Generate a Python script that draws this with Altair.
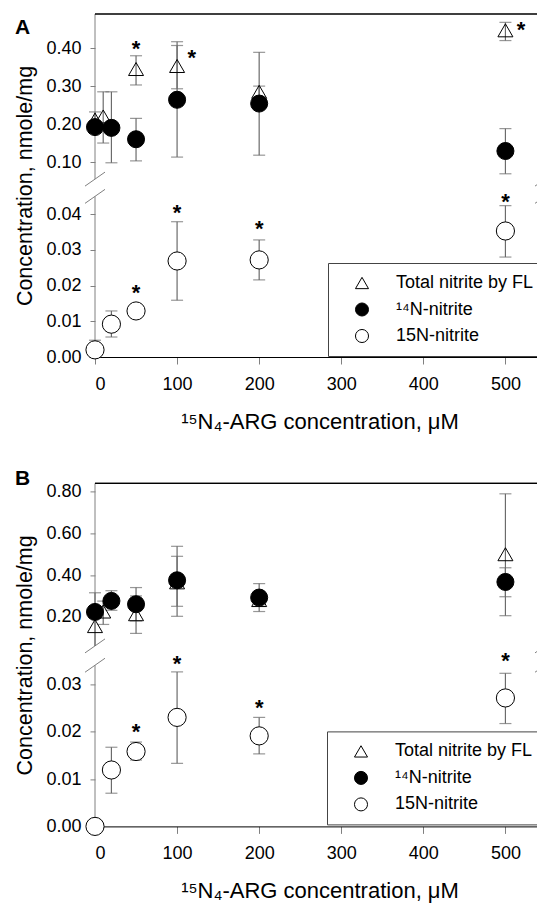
import altair as alt
import pandas as pd

FONT = "Liberation Sans"
ERR = "#6b6b6b"
AXIS_GRAY = "#808080"
W, H = 449, 343

SERIES = ["Total nitrite by FL", "¹⁴N-nitrite", "15N-nitrite"]
X_TICKS = [0, 100, 200, 300, 400, 500]

# ---------------- Panel A data ----------------
a_total_x = [0, 10, 50, 100, 200, 500]
a_total_y = [0.212, 0.22, 0.345, 0.353, 0.285, 0.447]
a_total_hi = [0.232, 0.285, 0.38, 0.407, 0.30, 0.468]
a_total_lo = [0.192, 0.15, 0.303, 0.293, 0.27, 0.42]

a_n14_x = [0, 20, 50, 100, 200, 500]
a_n14_y = [0.192, 0.19, 0.16, 0.264, 0.254, 0.129]
a_n14_hi = [0.205, 0.285, 0.215, 0.417, 0.389, 0.188]
a_n14_lo = [0.179, 0.098, 0.103, 0.113, 0.118, 0.069]

a_n15_x = [0, 20, 50, 100, 200, 500]
a_n15_y = [0.002, 0.0092, 0.0129, 0.0269, 0.0272, 0.0353]
a_n15_hi = [0.0047, 0.0129, 0.0135, 0.0379, 0.0328, 0.0424]
a_n15_lo = [0.0, 0.0056, 0.0123, 0.0159, 0.0216, 0.028]

a_star_x = [50, 118, 519, 50, 100, 200, 500]
a_star_y = [0.41, 0.386, 0.461, 0.0192, 0.0417, 0.0373, 0.0448]

a_yticks = [0.0, 0.01, 0.02, 0.03, 0.04, 0.10, 0.20, 0.30, 0.40]
a_segments = [(0.0, 0.045), (0.055, 0.49)]
a_scale_domain = [0.0, 0.046, 0.055, 0.49]
a_scale_range = [343, 178.8, 165.1, 0]

# ---------------- Panel B data ----------------
b_total_x = [0, 10, 50, 100, 200, 500]
b_total_y = [0.155, 0.225, 0.212, 0.365, 0.28, 0.50]
b_total_hi = [0.315, 0.275, 0.30, 0.49, 0.31, 0.79]
b_total_lo = [0.0, 0.163, 0.12, 0.25, 0.25, 0.205]

b_n14_x = [0, 20, 50, 100, 200, 500]
b_n14_y = [0.223, 0.276, 0.26, 0.375, 0.292, 0.367]
b_n14_hi = [0.24, 0.325, 0.34, 0.538, 0.359, 0.435]
b_n14_lo = [0.205, 0.231, 0.18, 0.202, 0.225, 0.296]

b_n15_x = [0, 20, 50, 100, 200, 500]
b_n15_y = [0.0, 0.0119, 0.0158, 0.023, 0.0191, 0.0271]
b_n15_hi = [0.0, 0.0167, 0.0178, 0.0326, 0.023, 0.0323]
b_n15_lo = [0.0, 0.007, 0.014, 0.0133, 0.0153, 0.0217]

b_star_x = [50, 100, 200, 500]
b_star_y = [0.021, 0.0353, 0.0261, 0.036]

b_yticks = [0.0, 0.01, 0.02, 0.03, 0.20, 0.40, 0.60, 0.80]
b_segments = [(0.0, 0.034), (0.06, 0.84)]
b_scale_domain = [0.0, 0.0365, 0.06, 0.84]
b_scale_range = [343, 170, 162.5, 0]


def build_frames(series_data, segments):
    rows, caps = [], []
    for name, xs, ys, his, los in series_data:
        for x, y, hi, lo in zip(xs, ys, his, los):
            seg = min(segments, key=lambda s: 0 if s[0] <= y <= s[1] else min(abs(y - s[0]), abs(y - s[1])))
            lo_c = max(lo, seg[0])
            hi_c = min(hi, seg[1])
            rows.append({"series": name, "x": x, "y": y, "lo": lo_c, "hi": hi_c})
            caps.append({"x": x, "v": hi_c})
            if lo >= seg[0]:
                caps.append({"x": x, "v": lo_c})
    return pd.DataFrame(rows), pd.DataFrame(caps)


def make_panel(label, series_data, star_x, star_y, yticks, segments, sdom, srange, lx, ly, label_y):
    df, caps = build_frames(series_data, segments)
    seg_df = pd.DataFrame({"s0": [s[0] for s in segments], "s1": [s[1] for s in segments]})
    brk_df = pd.DataFrame({"v": [segments[0][1], segments[1][0]]})
    star_df = pd.DataFrame({"x": star_x, "sy": star_y})

    xscale = alt.Scale(domain=[0, 547], nice=False, zero=False)
    yscale = alt.Scale(domain=sdom, range=srange, nice=False, zero=False)
    xaxis = alt.Axis(values=X_TICKS, title="¹⁵N₄-ARG concentration, μM", grid=False,
                     domainColor="black", tickColor=AXIS_GRAY, tickSize=7,
                     labelFontSize=18, labelPadding=11, labelFont=FONT, labelColor="black",
                     titleFontSize=22, titlePadding=18, titleFont=FONT, titleColor="black",
                     titleFontWeight="normal", labelOverlap=False)
    yaxis = alt.Axis(values=yticks, format=".2f", title="Concentration, nmole/mg", grid=False,
                     domain=False, tickColor=AXIS_GRAY, tickSize=5,
                     labelFontSize=18, labelPadding=9, labelFont=FONT, labelColor="black",
                     titleFontSize=21.5, titlePadding=9, titleFont=FONT, titleColor="black",
                     titleFontWeight="normal", labelOverlap=False)

    X = alt.X("x:Q", scale=xscale, axis=xaxis)

    legend = alt.Legend(title=None, orient="none", legendX=lx, legendY=ly, padding=11,
                        rowPadding=8.5, symbolOffset=14, labelOffset=25, strokeColor="#444444",
                        fillColor="white", labelFontSize=18, labelFont=FONT, labelColor="black",
                        symbolSize=170, symbolStrokeWidth=1, labelLimit=0)
    shape = alt.Shape("series:N", scale=alt.Scale(domain=SERIES, range=["triangle-up", "circle", "circle"]), legend=legend)
    fill = alt.Fill("series:N", scale=alt.Scale(domain=SERIES, range=["transparent", "black", "white"]), legend=legend)
    stroke = alt.Stroke("series:N", scale=alt.Scale(domain=SERIES, range=["black", "black", "black"]), legend=legend)

    axis_seg = alt.Chart(seg_df).mark_rule(color=AXIS_GRAY, strokeWidth=1).encode(
        x=alt.value(0), y=alt.Y("s0:Q", scale=yscale, axis=yaxis), y2="s1:Q")
    brk_left = alt.Chart(brk_df).mark_rule(color=AXIS_GRAY, strokeWidth=1, yOffset=7, y2Offset=-7).encode(
        x=alt.value(-10), x2=alt.value(10), y=alt.Y("v:Q", scale=yscale, axis=yaxis), y2="v:Q")
    brk_right = alt.Chart(brk_df).mark_rule(color=AXIS_GRAY, strokeWidth=1, yOffset=7, y2Offset=-7, clip=True).encode(
        x=alt.value(W - 9), x2=alt.value(W + 11), y=alt.Y("v:Q", scale=yscale, axis=yaxis), y2="v:Q")
    top = alt.Chart(seg_df).mark_rule(color="black", strokeWidth=1.2).encode(
        x=alt.value(0), x2=alt.value(W), y=alt.value(0))
    err = alt.Chart(df).mark_rule(color=ERR, strokeWidth=1.2).encode(
        x=X, y=alt.Y("lo:Q", scale=yscale, axis=yaxis), y2="hi:Q")
    cap = alt.Chart(caps).mark_tick(color=ERR, orient="horizontal", size=12, thickness=1.2).encode(
        x=X, y=alt.Y("v:Q", scale=yscale, axis=yaxis))
    Y = alt.Y("y:Q", scale=yscale, axis=yaxis)
    tri = alt.Chart(df).transform_filter(alt.datum.series == SERIES[0]).mark_point(
        filled=True, strokeWidth=1, size=225, opacity=1).encode(x=X, y=Y, shape=shape, fill=fill, stroke=stroke)
    c14 = alt.Chart(df).transform_filter(alt.datum.series == SERIES[1]).mark_point(
        filled=True, strokeWidth=1, size=290, opacity=1).encode(x=X, y=Y, shape=shape, fill=fill, stroke=stroke)
    c15 = alt.Chart(df).transform_filter(alt.datum.series == SERIES[2]).mark_point(
        filled=True, strokeWidth=1, size=330, opacity=1).encode(x=X, y=Y, shape=shape, fill=fill, stroke=stroke)
    stars = alt.Chart(star_df).mark_text(text="*", font=FONT, fontSize=22, fontWeight="bold",
                                         baseline="middle", dy=5, color="black").encode(
        x=X, y=alt.Y("sy:Q", scale=yscale, axis=yaxis))
    lab = alt.Chart(pd.DataFrame({"t": [label]})).mark_text(
        font=FONT, fontSize=21, fontWeight="bold", align="left", baseline="alphabetic", color="black").encode(
        x=alt.value(-80), y=alt.value(label_y), text="t:N")

    return alt.layer(axis_seg, brk_left, brk_right, top, err, cap, tri, c14, c15, stars, lab).properties(
        width=W, height=H)


panel_a = make_panel(
    "A",
    [(SERIES[0], a_total_x, a_total_y, a_total_hi, a_total_lo),
     (SERIES[1], a_n14_x, a_n14_y, a_n14_hi, a_n14_lo),
     (SERIES[2], a_n15_x, a_n15_y, a_n15_hi, a_n15_lo)],
    a_star_x, a_star_y, a_yticks, a_segments, a_scale_domain, a_scale_range, 233, 249, 20)

panel_b = make_panel(
    "B",
    [(SERIES[0], b_total_x, b_total_y, b_total_hi, b_total_lo),
     (SERIES[1], b_n14_x, b_n14_y, b_n14_hi, b_n14_lo),
     (SERIES[2], b_n15_x, b_n15_y, b_n15_hi, b_n15_lo)],
    b_star_x, b_star_y, b_yticks, b_segments, b_scale_domain, b_scale_range, 232, 248, 2)

chart = alt.vconcat(panel_a, panel_b, spacing=126.4, bounds="flush").resolve_scale(
    x="independent", y="independent", shape="independent", fill="independent", stroke="independent"
).resolve_legend(shape="independent", fill="independent", stroke="independent").properties(
    padding={"left": 6, "top": 5, "right": -9, "bottom": 2}
).configure_view(stroke=None)

chart.save("out.html", embed_options={"renderer": "svg", "actions": False})
